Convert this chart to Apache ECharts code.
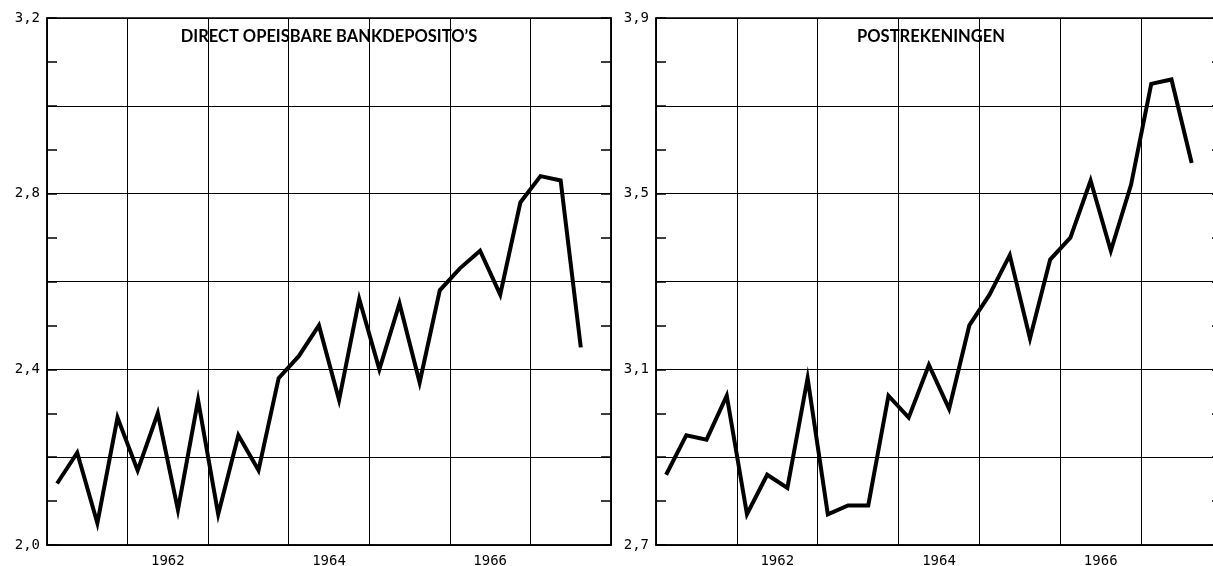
<!DOCTYPE html>
<html>
<head>
<meta charset="utf-8">
<script src="https://cdn.jsdelivr.net/npm/echarts@6/dist/echarts.min.js"></script>
<style>
  html, body { margin: 0; padding: 0; background: #fff; }
  #chart { width: 1213px; height: 566px; }
</style>
</head>
<body>
<div id="chart"></div>
<script>
// ---- data ----
const years = ['1961', '1962', '1963', '1964', '1965', '1966', '1967'];
const labeledYears = ['1962', '1964', '1966'];
const quarterNames = ['I', 'II', 'III', 'IV'];
// quarterly values, 1961-I .. 1967-III
const bankDeposits = [2.14, 2.21, 2.05, 2.29, 2.17, 2.30, 2.08, 2.33, 2.07, 2.25, 2.17, 2.38,
                      2.43, 2.50, 2.33, 2.56, 2.40, 2.55, 2.37, 2.58, 2.63, 2.67, 2.57, 2.78,
                      2.84, 2.83, 2.45];
const postAccounts = [2.86, 2.95, 2.94, 3.04, 2.77, 2.86, 2.83, 3.08, 2.77, 2.79, 2.79, 3.04,
                      2.99, 3.11, 3.01, 3.20, 3.27, 3.36, 3.17, 3.35, 3.40, 3.53, 3.37, 3.52,
                      3.75, 3.76, 3.57];
const leftYLabels = ['2,0', '2,4', '2,8', '3,2'];
const rightYLabels = ['2,7', '3,1', '3,5', '3,9'];
const leftTitle = 'DIRECT OPEISBARE BANKDEPOSITO\u2019S';
const rightTitle = 'POSTREKENINGEN';

const quarters = [];
years.forEach(y => quarterNames.forEach(q => quarters.push(y + '-' + q)));

const chart = echarts.init(document.getElementById('chart'), null, { renderer: 'canvas' });

const labelFont = { fontFamily: 'DejaVu Sans Mono', fontSize: 14, color: '#000' };

function yearAxis(gridIndex) {
  return {
    type: 'category', gridIndex: gridIndex, data: years, boundaryGap: true,
    axisLine: { show: true, lineStyle: { color: '#000', width: 1.5 } },
    axisTick: { show: false },
    axisLabel: Object.assign({
      interval: (i, v) => labeledYears.indexOf(v) >= 0,
      margin: 9
    }, labelFont),
    splitLine: { show: true, interval: 0, lineStyle: { color: '#000', width: 1 } }
  };
}
function quarterAxis(gridIndex) {
  return { type: 'category', gridIndex: gridIndex, data: quarters, boundaryGap: true, show: false };
}
function valueAxis(gridIndex, min, max, labels) {
  return {
    type: 'value', gridIndex: gridIndex, min: min, max: max, interval: 0.1, position: 'left',
    axisLine: { show: true, lineStyle: { color: '#000', width: 1.5 } },
    axisTick: { show: true, inside: true, length: 10, lineStyle: { color: '#000', width: 1.5 } },
    axisLabel: Object.assign({
      margin: 7,
      formatter: v => { const s = v.toFixed(1).replace('.', ','); return labels.indexOf(s) >= 0 ? s : ''; }
    }, labelFont),
    splitLine: { show: true, lineStyle: { color: ['#000', 'rgba(0,0,0,0)'], width: 1 } }
  };
}
function valueAxisRight(gridIndex, min, max) {
  return {
    type: 'value', gridIndex: gridIndex, min: min, max: max, interval: 0.1, position: 'right',
    axisLine: { show: true, lineStyle: { color: '#000', width: 1.5 } },
    axisTick: { show: true, inside: true, length: 10, lineStyle: { color: '#000', width: 1.5 } },
    axisLabel: { show: false },
    splitLine: { show: false }
  };
}

const option = {
  backgroundColor: '#fff',
  animation: false,
  grid: [
    { left: 47, right: 602, top: 18, bottom: 21, show: true, borderColor: '#000', borderWidth: 1.5,
      containLabel: false, outerBoundsMode: 'none' },
    { left: 656, width: 566, top: 18, bottom: 21, show: true, borderColor: '#000', borderWidth: 1.5,
      containLabel: false, outerBoundsMode: 'none' }
  ],
  xAxis: [yearAxis(0), quarterAxis(0), yearAxis(1), quarterAxis(1)],
  yAxis: [
    valueAxis(0, 2.0, 3.2, leftYLabels), valueAxisRight(0, 2.0, 3.2),
    valueAxis(1, 2.7, 3.9, rightYLabels), valueAxisRight(1, 2.7, 3.9)
  ],
  graphic: [
    { type: 'text', x: 329, y: 37, silent: true,
      style: { text: leftTitle, fontFamily: 'Lato', fontWeight: 'bold', fontSize: 16.5, fill: '#000', align: 'center', verticalAlign: 'middle' } },
    { type: 'text', x: 931, y: 37, silent: true,
      style: { text: rightTitle, fontFamily: 'Lato', fontWeight: 'bold', fontSize: 16.5, fill: '#000', align: 'center', verticalAlign: 'middle' } }
  ],
  series: [
    { name: leftTitle, type: 'line', xAxisIndex: 1, yAxisIndex: 0, data: bankDeposits,
      symbol: 'none', lineStyle: { color: '#000', width: 4, join: 'miter', miterLimit: 10 } },
    { name: rightTitle, type: 'line', xAxisIndex: 3, yAxisIndex: 2, data: postAccounts,
      symbol: 'none', lineStyle: { color: '#000', width: 4, join: 'miter', miterLimit: 10 } }
  ]
};
chart.setOption(option);
</script>
</body>
</html>
